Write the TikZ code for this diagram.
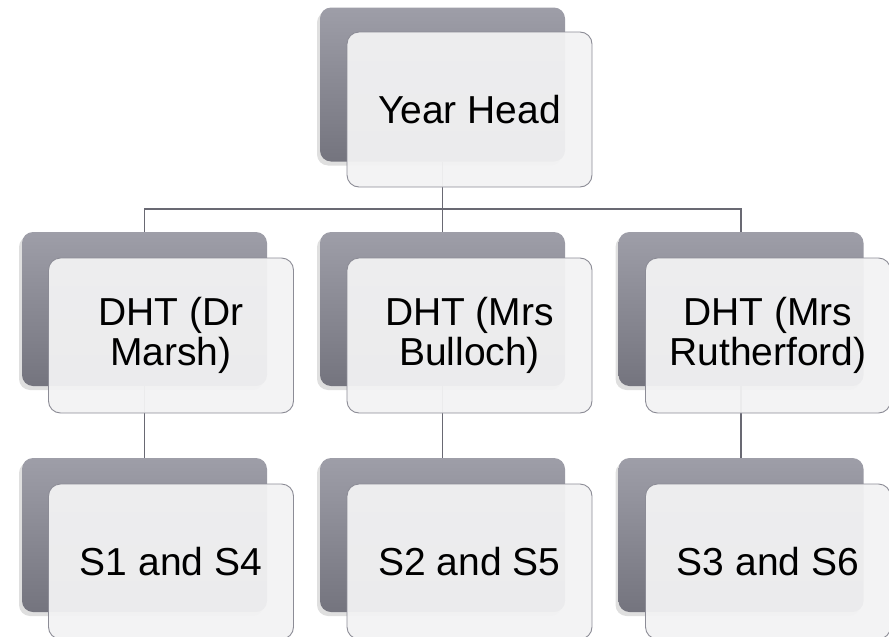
\documentclass[tikz,border=0pt]{standalone}
\usepackage{fontspec}
\setmainfont{Liberation Sans}
\usepackage{xcolor}
\usetikzlibrary{shadows}

\definecolor{backtop}{RGB}{158,158,168}
\definecolor{backbot}{RGB}{116,116,126}
\definecolor{frontfill}{RGB}{242,242,243}
\definecolor{frontline}{RGB}{140,140,150}
\definecolor{linkgray}{RGB}{105,105,115}

\tikzset{
  backbox/.style={rectangle, rounded corners=11pt, minimum width=245pt,
    minimum height=154pt, inner sep=0pt, top color=backtop, bottom color=backbot,
    drop shadow={shadow xshift=-3pt, shadow yshift=-4pt, opacity=0.25}},
  frontbox/.style={rectangle, rounded corners=12pt, minimum width=245pt,
    minimum height=155pt, inner sep=0pt, draw=frontline, line width=0.9pt,
    fill=frontfill, fill opacity=0.95, text opacity=1, align=center,
    font=\fontsize{39}{40}\selectfont},
  link/.style={draw=linkgray, line width=1.5pt}
}

\begin{document}
\begin{tikzpicture}[x=1pt,y=-1pt]
\useasboundingbox (0,0) rectangle (889,637);
% back boxes
\node (yhB) at (442.5,84.5) [backbox] {};
\node (d1B) at (144.5,309) [backbox] {};
\node (d2B) at (442.5,309) [backbox] {};
\node (d3B) at (741,309) [backbox] {};
\node (s1B) at (144.5,535) [backbox] {};
\node (s2B) at (442.5,535) [backbox] {};
\node (s3B) at (741,535) [backbox] {};
% connectors
\coordinate (bus) at (442.5,209);
\draw[link] (yhB.south) -- (bus);
\draw[link] (d1B.north) |- (bus) -| (d3B.north);
\draw[link] (bus) -- (d2B.north);
\draw[link] (d1B.south) -- (s1B.north);
\draw[link] (d2B.south) -- (s2B.north);
\draw[link] (d3B.south) -- (s3B.north);
% front boxes
\node (yh) at (469.5,109.5) [frontbox] {Year Head};
\node (d1) at (171,335.5) [frontbox] {DHT (Dr\\Marsh)};
\node (d2) at (469.5,335.5) [frontbox] {DHT (Mrs\\Bulloch)};
\node (d3) at (768,335.5) [frontbox] {DHT (Mrs\\Rutherford)};
\node (s1) at (171,561.5) [frontbox] {S1 and S4};
\node (s2) at (469.5,561.5) [frontbox] {S2 and S5};
\node (s3) at (768,561.5) [frontbox] {S3 and S6};
\end{tikzpicture}
\end{document}
